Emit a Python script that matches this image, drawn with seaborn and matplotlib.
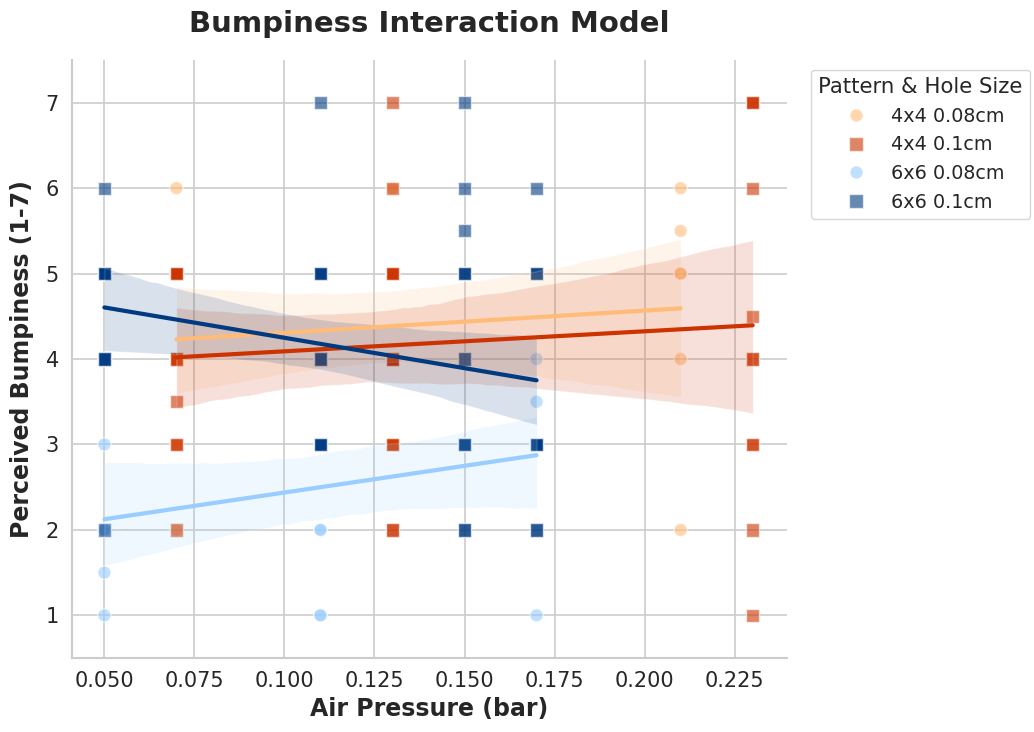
import numpy as np
import pandas as pd
import matplotlib
matplotlib.use("Agg")
import matplotlib.pyplot as plt
import seaborn as sns

# ---- data: pressures, rating values and how many times each occurs ----
groups = ["4x4 0.08cm", "4x4 0.1cm", "6x6 0.08cm", "6x6 0.1cm"]

g1_x = [0.07, 0.13, 0.21]
g1_vals = [[6, 5, 4, 3, 2], [6, 5, 4, 3], [6, 5.5, 5, 4, 2]]
g1_counts = [[1, 3, 3, 1, 1], [1, 3, 5, 1], [1, 1, 2, 1, 1]]

g2_x = [0.07, 0.13, 0.23]
g2_vals = [[5, 4, 3.5, 3, 2], [7, 6, 5, 4, 3, 2], [7, 6, 4.5, 4, 3, 2, 1]]
g2_counts = [[5, 3, 1, 2, 1], [1, 1, 4, 4, 3, 2], [3, 1, 1, 2, 2, 1, 1]]

g3_x = [0.05, 0.11, 0.17]
g3_vals = [[4, 3, 2, 1.5, 1], [4, 3, 2, 1], [4, 3.5, 3, 1]]
g3_counts = [[1, 1, 4, 1, 1], [1, 3, 2, 2], [1, 1, 5, 1]]

g4_x = [0.05, 0.11, 0.15, 0.17]
g4_vals = [[6, 5, 4, 2], [7, 5, 4, 3], [7, 6, 5.5, 5, 4, 3, 2], [6, 5, 3, 2]]
g4_counts = [[1, 8, 4, 1], [1, 4, 5, 4], [1, 1, 1, 3, 2, 6, 2], [1, 3, 5, 2]]

colors = ["#ffbb77", "#cc3300", "#99ccff", "#003a80"]
markers = {"4x4 0.08cm": "o", "4x4 0.1cm": "s", "6x6 0.08cm": "o", "6x6 0.1cm": "s"}

x_ticks = [0.050, 0.075, 0.100, 0.125, 0.150, 0.175, 0.200, 0.225]
y_ticks = [1, 2, 3, 4, 5, 6, 7]

all_x = [g1_x, g2_x, g3_x, g4_x]
all_vals = [g1_vals, g2_vals, g3_vals, g4_vals]
all_counts = [g1_counts, g2_counts, g3_counts, g4_counts]

rows = []
for g, gx, gv, gc in zip(groups, all_x, all_vals, all_counts):
    for x, vals, cnts in zip(gx, gv, gc):
        for v, c in zip(vals, cnts):
            rows.extend([(x, v, g)] * c)
df = pd.DataFrame(rows, columns=["Air Pressure", "Bumpiness", "Group"])

sns.set_theme(style="whitegrid", font_scale=1.2)
plt.rcParams["font.family"] = ["DejaVu Sans"]

fig, ax = plt.subplots(figsize=(10.34, 7.32), dpi=100)
fig.subplots_adjust(left=0.0696, right=0.761, bottom=0.101, top=0.918)

palette = dict(zip(groups, colors))
sns.scatterplot(data=df, x="Air Pressure", y="Bumpiness", hue="Group", style="Group",
                hue_order=groups, style_order=groups, palette=palette, markers=markers,
                s=90, alpha=0.6, edgecolor="white", linewidth=1, ax=ax)

for g in groups:
    sub = df[df["Group"] == g]
    sns.regplot(data=sub, x="Air Pressure", y="Bumpiness", scatter=False,
                color=palette[g], ci=95, seed=3, line_kws={"lw": 3}, ax=ax)

ax.set_xlim(0.041, 0.2395)
ax.set_ylim(0.5, 7.5)
ax.set_xticks(x_ticks)
ax.set_xticklabels([f"{t:.3f}" for t in x_ticks])
ax.set_yticks(y_ticks)
ax.tick_params(axis="both", labelsize=15)
ax.set_xlabel("Air Pressure (bar)", fontweight="bold", fontsize=17)
ax.set_ylabel("Perceived Bumpiness (1-7)", fontweight="bold", fontsize=17, labelpad=8)
ax.set_title("Bumpiness Interaction Model", fontsize=21, fontweight="bold", pad=20)
sns.despine(ax=ax)
ax.grid(True, color="#cccccc", lw=1.2)
for sp in ["left", "bottom"]:
    ax.spines[sp].set_color("#cccccc")
    ax.spines[sp].set_linewidth(1.5)

handles, labels = ax.get_legend_handles_labels()
leg = ax.legend(handles[:4], labels[:4], title="Pattern & Hole Size",
                bbox_to_anchor=(1.02, 1.0), loc="upper left",
                fontsize=13.8, title_fontsize=15.3)
for h in leg.legend_handles:
    try:
        h.set_alpha(0.6)
    except Exception:
        pass

fig.savefig("out.png", dpi=100)
